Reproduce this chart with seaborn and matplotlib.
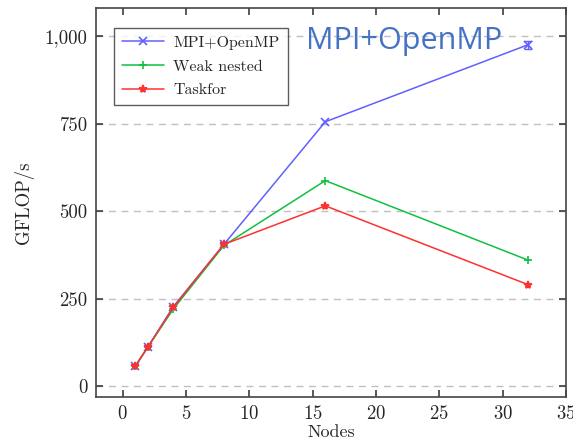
import matplotlib
matplotlib.use("Agg")
import matplotlib.pyplot as plt
import matplotlib.ticker as mticker
import seaborn as sns
import pandas as pd

nodes = [1, 2, 4, 8, 16, 32]
mpi_openmp = [57, 112, 227, 405, 755, 975]
weak_nested = [57, 112, 220, 402, 587, 360]
taskfor = [57, 112, 225, 405, 515, 290]
mpi_err = [0, 0, 0, 0, 0, 12]

sns.set_theme(style="ticks")
plt.rcParams["font.family"] = ["cmr10", "DejaVu Serif"]
plt.rcParams["axes.formatter.use_mathtext"] = True
plt.rcParams["mathtext.fontset"] = "cm"

series = [
    ("MPI+OpenMP", mpi_openmp, "#6060ff", "x"),
    ("Weak nested", weak_nested, "#10c040", "+"),
    ("Taskfor", taskfor, "#ff3030", "*"),
]

fig = plt.figure(figsize=(5.73, 4.45), dpi=100)
ax = fig.add_axes([96 / 573, 48 / 445, 470 / 573, 389 / 445])

for name, vals, color, mk in series:
    df = pd.DataFrame({"Nodes": nodes, "GFLOP/s": vals})
    sns.lineplot(data=df, x="Nodes", y="GFLOP/s", ax=ax, color=color,
                 marker=mk, markersize=6, markeredgewidth=1.2,
                 markeredgecolor=color, linewidth=1.1, label=name)

ax.errorbar(nodes[-1], mpi_openmp[-1], yerr=mpi_err[-1], color="#6060ff",
            capsize=3, linewidth=1, fmt="none")

ax.set_xlim(-2.1, 35)
ax.set_ylim(-31, 1080)
ax.set_xticks([0, 5, 10, 15, 20, 25, 30, 35])
ax.set_yticks([0, 250, 500, 750, 1000])
ax.yaxis.set_major_formatter(mticker.FuncFormatter(lambda v, p: f"{int(v):,}"))
ax.grid(axis="y", linestyle=(0, (5, 4)), color="#c0c0c0", linewidth=1)
ax.tick_params(direction="in", top=True, right=True, length=5, labelsize=13.5,
               color="#444444", pad=6)
for s in ax.spines.values():
    s.set_color("#444444")
    s.set_linewidth(1.2)

ax.set_xlabel("Nodes", fontsize=13, labelpad=1)
ax.set_ylabel("GFLOP/s", fontsize=13.5, labelpad=8)

leg = ax.legend(loc="upper left", bbox_to_anchor=(0.022, 0.97), fontsize=11.5,
                frameon=True, fancybox=False, edgecolor="#333333",
                handlelength=2.6, handletextpad=0.6, borderpad=0.5,
                labelspacing=0.6)
leg.get_frame().set_linewidth(1)

fig.text(306 / 573, 1 - 41 / 445, "MPI+OpenMP", color="#4472c4", fontsize=22,
         family=["Open Sans", "DejaVu Sans"], va="center", ha="left")

fig.savefig("out.png", dpi=100)
